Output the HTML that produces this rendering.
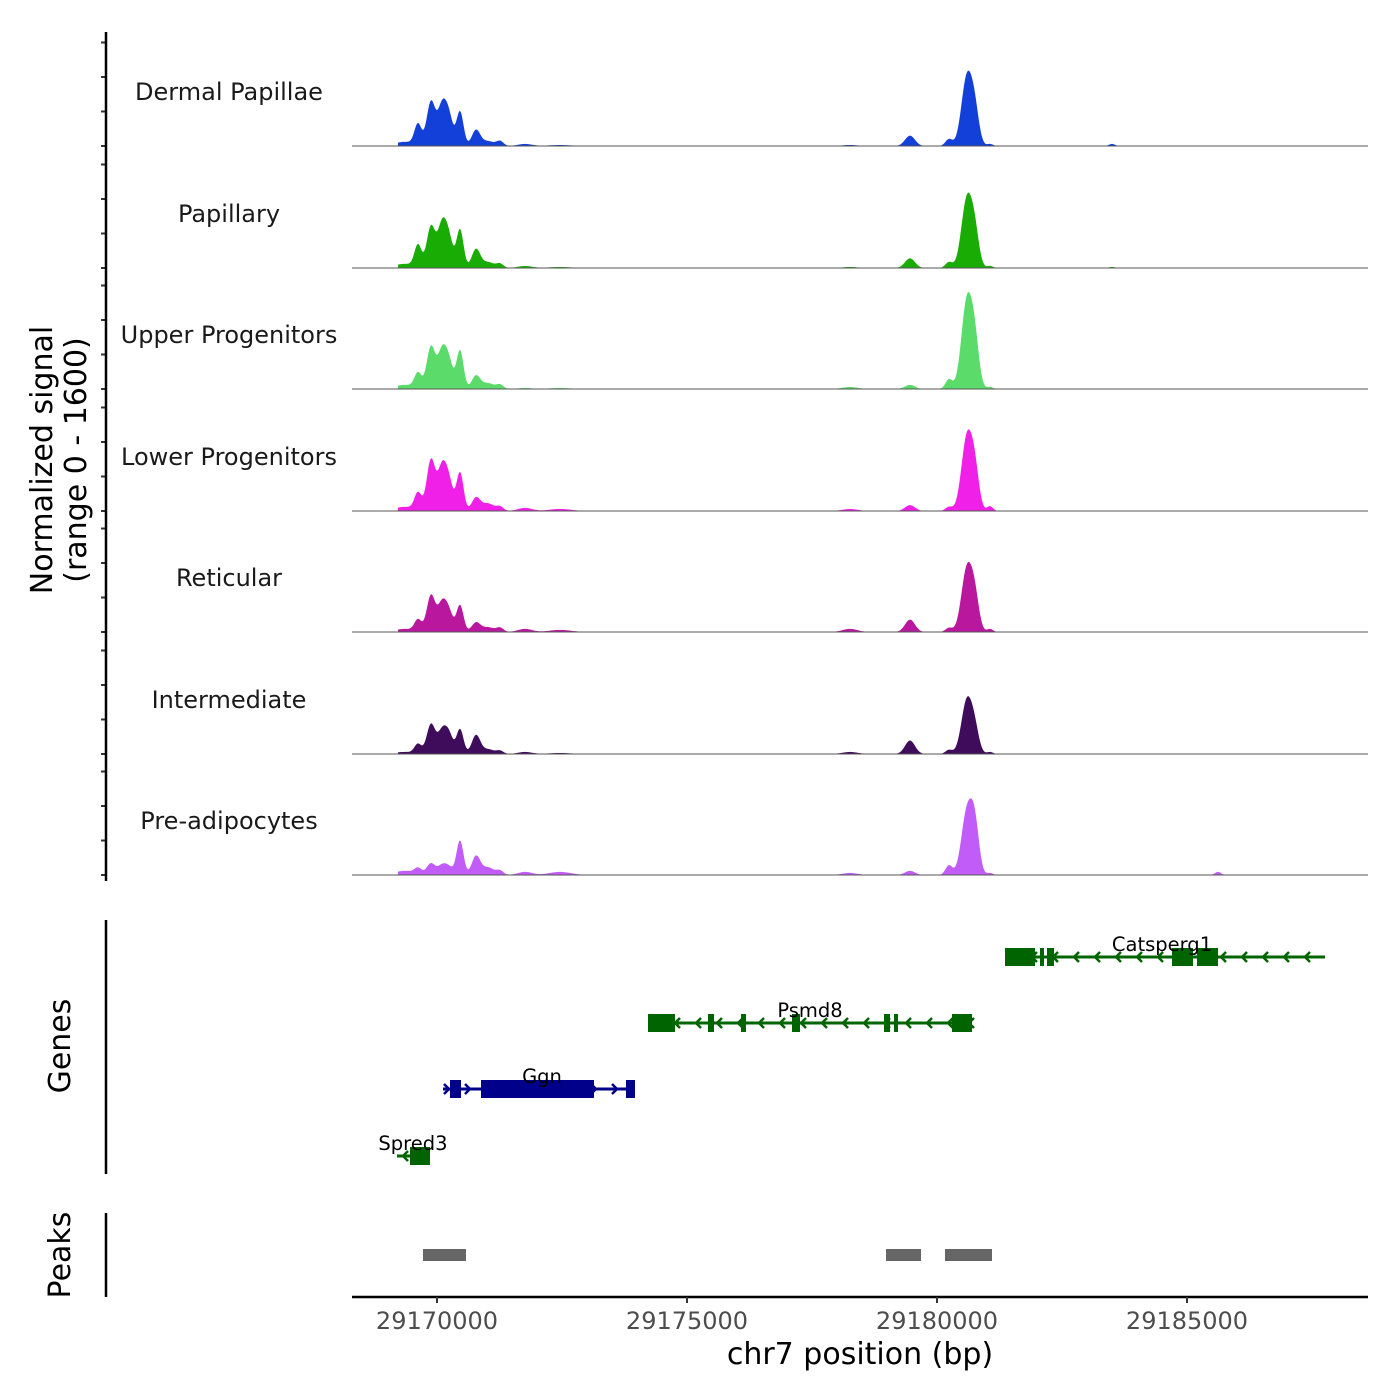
<!DOCTYPE html>
<html><head><meta charset="utf-8"><style>
body{margin:0;background:#fff}
svg{display:block;font-family:"DejaVu Sans","Liberation Sans",sans-serif}
</style></head><body>
<svg id="chart" width="1400" height="1400" viewBox="0 0 1400 1400" xmlns="http://www.w3.org/2000/svg">
<g id="tracks"></g>
<g id="genes"></g>
<g id="peaks"></g>
<g id="axes"></g>
</svg>
<script>
const groups = ["Dermal Papillae","Papillary","Upper Progenitors","Lower Progenitors","Reticular","Intermediate","Pre-adipocytes"];
const groupColors = ["#1340d8","#19ac05","#5bdc6a","#f020e8","#b8179e","#3e0c5a","#c15cf8"];
// peak centres (bp) and widths (bp sd)
const peakCenters = [29169360,29169620,29169880,29170100,29170240,29170460,29170780,29171020,29171260,29171760,29172460,29178260,29179460,29180240,29180600,29180760,29181060,29183500,29185620];
const peakWidths = [220,70,85,85,80,70,85,120,70,140,220,150,100,70,110,85,60,60,60];
const sigDermal = [60,300,640,560,400,500,230,70,70,30,15,15,150,100,1000,420,30,30,0];
const sigPapillary = [60,315,600,610,400,560,270,85,60,30,15,15,140,85,1000,420,30,15,0];
const sigUpper = [60,215,610,530,370,560,190,85,60,15,15,30,60,140,1280,560,30,0,0];
const sigLower = [60,245,740,610,400,560,190,110,60,45,30,30,85,60,1070,490,70,0,0];
const sigReticular = [45,165,530,400,270,390,135,70,60,45,30,45,180,60,920,420,45,0,0];
const sigIntermediate = [30,135,430,320,270,360,270,70,45,30,15,30,195,60,780,280,30,0,0];
const sigPreadipo = [60,80,165,135,105,500,270,110,60,45,45,30,60,140,920,630,30,0,45];
const trackSignals = [sigDermal,sigPapillary,sigUpper,sigLower,sigReticular,sigIntermediate,sigPreadipo];
const xTicks = [29170000,29175000,29180000,29185000];
const xTickLabels = ["29170000","29175000","29180000","29185000"];
const yTicks = [0,500,1000,1500];
const geneNames = ["Catsperg1","Psmd8","Ggn","Spred3"];
const geneStrands = [-1,-1,1,-1];
const geneRows = [0,1,2,3];
const geneStarts = [29181360,29174220,29170120,29169200];
const geneEnds = [29187760,29180700,29173960,29169860];
const geneExons = [
 [[29181360,29181960],[29182060,29182140],[29182200,29182340],[29184700,29185120],[29185200,29185620]],
 [[29174220,29174760],[29175420,29175540],[29176080,29176180],[29177100,29177260],[29178940,29179060],[29179140,29179220],[29180300,29180700]],
 [[29170260,29170480],[29170880,29173140],[29173780,29173960]],
 [[29169460,29169860]]
];
const geneLabelPos = [29184500,29177460,29172100,29169520];
const peakStarts = [29169720,29178980,29180160];
const peakEnds = [29170580,29179680,29181100];

const NS="http://www.w3.org/2000/svg";
function mk(t,a,p){const e=document.createElementNS(NS,t);for(const k in a)e.setAttribute(k,a[k]);p.appendChild(e);return e;}
const X0=352,X1=1368,bp0=29168300,bp1=29188620;
const xs=v=>X0+(v-bp0)/(bp1-bp0)*(X1-X0);
const baselines=[146,268,389,511,632,754,875];
const ys=(v,i)=>baselines[i]-v/1600*110.4;
const tracks=document.getElementById('tracks');
const axes=document.getElementById('axes');
trackSignals.forEach((sig,i)=>{
  const pts=[];
  for(let px=398;px<=1330;px+=1){
    const b=bp0+(px-X0)/(X1-X0)*(bp1-bp0);
    let s=0;for(let k=0;k<peakCenters.length;k++){const d=(b-peakCenters[k])/peakWidths[k];s+=sig[k]*Math.exp(-0.5*d*d);}
    pts.push([px,ys(s,i)]);
  }
  let d="M398,"+baselines[i];pts.forEach(p=>d+="L"+p[0]+","+p[1].toFixed(2));d+="L1330,"+baselines[i]+"Z";
  const a=mk('path',{d:d,fill:groupColors[i]},tracks);
  
  
  const bl=mk('line',{x1:X0,x2:X1,y1:baselines[i],y2:baselines[i],stroke:"#555","stroke-width":1},tracks);
  
  
  const t=mk('text',{x:229,y:baselines[i]-46,"text-anchor":"middle","font-size":24,fill:"#1a1a1a"},tracks);
  t.textContent=groups[i];
  
  
  yTicks.forEach(v=>{const tk=mk('line',{x1:101,x2:106,y1:ys(v,i),y2:ys(v,i),stroke:"#333","stroke-width":2},axes);
    
    });
});
mk('line',{x1:106,x2:106,y1:32,y2:881,stroke:"#000","stroke-width":2.5},axes);
mk('line',{x1:106,x2:106,y1:920,y2:1174,stroke:"#000","stroke-width":2.5},axes);
mk('line',{x1:106,x2:106,y1:1213,y2:1297,stroke:"#000","stroke-width":2.5},axes);
mk('line',{x1:X0,x2:X1,y1:1297,y2:1297,stroke:"#000","stroke-width":2.5},axes);
xTicks.forEach((v,k)=>{
  const tk=mk('line',{x1:xs(v),x2:xs(v),y1:1297,y2:1303,stroke:"#333","stroke-width":2},axes);
  
  
  const t=mk('text',{x:xs(v),y:1329,"text-anchor":"middle","font-size":24,fill:"#4d4d4d"},axes);
  t.textContent=xTickLabels[k];
  
  
});
function txt(s,a,name,p){const t=mk('text',a,p);t.textContent=s;return t;}
txt("chr7 position (bp)",{x:860,y:1364,"text-anchor":"middle","font-size":30,fill:"#000"},"x-axis-title",axes);
txt("Normalized signal",{x:0,y:0,"text-anchor":"middle","font-size":30,transform:"translate(52,460) rotate(-90)"},"y-axis-title",axes);
txt("(range 0 - 1600)",{x:0,y:0,"text-anchor":"middle","font-size":30,transform:"translate(86,460) rotate(-90)"},"y-axis-subtitle",axes);
txt("Genes",{x:0,y:0,"text-anchor":"middle","font-size":30,transform:"translate(70,1046) rotate(-90)"},"genes-title",axes);
txt("Peaks",{x:0,y:0,"text-anchor":"middle","font-size":30,transform:"translate(70,1255) rotate(-90)"},"peaks-title",axes);

const genes=document.getElementById('genes');
const rowY=[957,1023,1089,1156];
geneNames.forEach((g,i)=>{
  const y=rowY[geneRows[i]],col=geneStrands[i]>0?"#00008b":"#006400";
  const ln=mk('line',{x1:xs(geneStarts[i]),x2:xs(geneEnds[i]),y1:y,y2:y,stroke:col,"stroke-width":3},genes);
  
  
  for(let px=xs(geneStarts[i])+6;px<xs(geneEnds[i])-2;px+=21){
    const dd=geneStrands[i]>0?-5:5;
    const ar=mk('path',{d:`M${px+dd},${y-5}L${px},${y}L${px+dd},${y+5}`,stroke:col,"stroke-width":2.5,fill:"none"},genes);
    
    
  }
  geneExons[i].forEach(e=>{
    const r=mk('rect',{x:xs(e[0]),y:y-9,width:xs(e[1])-xs(e[0]),height:18,fill:col},genes);
    
    
  });
  txt(g,{x:xs(geneLabelPos[i]),y:y-6,"text-anchor":"middle","font-size":19.5,fill:"#000"},"gene-label",genes);
});
const pk=document.getElementById('peaks');
peakStarts.forEach((s,i)=>{
  const r=mk('rect',{x:xs(s),y:1249,width:xs(peakEnds[i])-xs(s),height:12,fill:"#666"},pk);
  
  
});
</script>
</body></html>
